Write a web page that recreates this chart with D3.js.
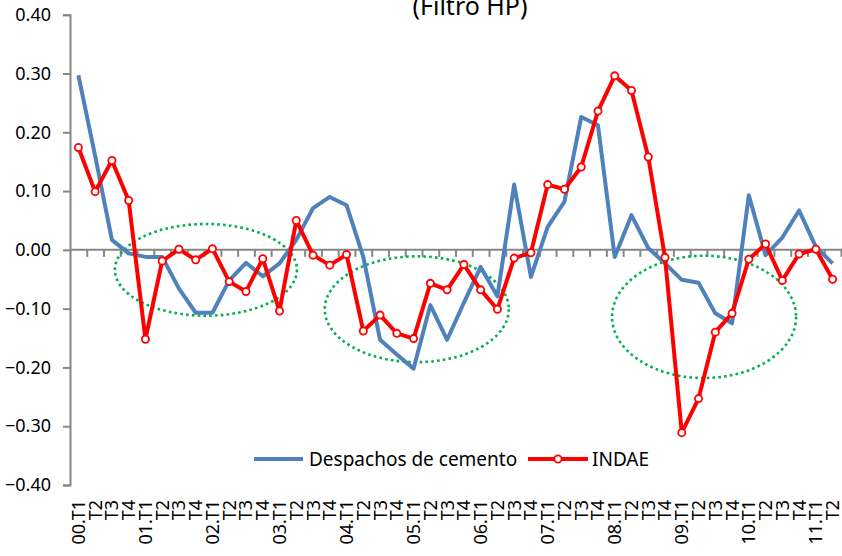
<!DOCTYPE html>
<html><head><meta charset="utf-8">
<script src="https://cdn.jsdelivr.net/npm/d3@7"></script>
<style>
html,body{margin:0;padding:0;background:#fff;}
svg{display:block;}
text{font-family:"Noto Sans","Open Sans",sans-serif;fill:#000;}
</style></head>
<body>
<svg id="chart" width="842" height="556"></svg>
<script>
const categories = ["00.T1","T2","T3","T4","01.T1","T2","T3","T4","02.T1","T2","T3","T4",
  "03.T1","T2","T3","T4","04.T1","T2","T3","T4","05.T1","T2","T3","T4",
  "06.T1","T2","T3","T4","07.T1","T2","T3","T4","08.T1","T2","T3","T4",
  "09.T1","T2","T3","T4","10.T1","T2","T3","T4","11.T1","T2"];
const despachos = [0.297,0.160,0.017,-0.006,-0.012,-0.012,-0.066,-0.107,-0.107,-0.052,-0.022,-0.045,
  -0.023,0.017,0.071,0.090,0.076,-0.012,-0.153,-0.178,-0.202,-0.094,-0.153,-0.090,
  -0.029,-0.079,0.111,-0.046,0.039,0.082,0.226,0.212,-0.012,0.059,0.003,-0.023,
  -0.051,-0.056,-0.108,-0.125,0.093,-0.009,0.021,0.067,0.005,-0.023];
const indae = [0.174,0.099,0.152,0.084,-0.152,-0.019,0.001,-0.017,0.002,-0.054,-0.071,-0.015,
  -0.104,0.050,-0.009,-0.026,-0.008,-0.138,-0.111,-0.142,-0.151,-0.057,-0.068,-0.025,
  -0.068,-0.101,-0.014,-0.005,0.111,0.103,0.141,0.236,0.296,0.271,0.158,-0.013,
  -0.311,-0.253,-0.140,-0.108,-0.016,0.010,-0.052,-0.007,0.001,-0.050];
const yTicks = [-0.4,-0.3,-0.2,-0.1,0,0.1,0.2,0.3,0.4];
const seriesNames = ["Despachos de cemento","INDAE"];
const titleText = "(Filtro HP)";
// annotation ellipses: center category index, center value, radius in categories, radius in value
const ellipses = [
  {ci:7.61, cv:-0.034, rc:5.43, rv:0.078},
  {ci:20.19, cv:-0.101, rc:5.49, rv:0.090},
  {ci:37.33, cv:-0.114, rc:5.49, rv:0.104}
];

const svg = d3.select("#chart");
const mLeft = 70, mRight = 841, mTop = 14.7, mBottom = 485;
const idx = categories.map((d,i)=>i);
const x = d3.scaleBand().domain(idx).range([mLeft,mRight]).padding(0);
const bw = x.bandwidth();
const cx = i => x(i) + bw/2;
const y = d3.scaleLinear().domain([-0.4,0.4]).range([mBottom,mTop]);
const axisColor = "#868686";

// title (clipped at top, as in the original)
svg.append("text").attr("x",470).attr("y",14.5).attr("text-anchor","middle")
  .style("font-size","25px").text(titleText);

// Y axis
const gy = svg.append("g").attr("transform",`translate(${mLeft},0)`)
  .call(d3.axisLeft(y).tickValues(yTicks).tickFormat(d3.format(".2f")).tickSize(7).tickPadding(12));
gy.select(".domain").attr("stroke",axisColor).attr("stroke-width",2);
gy.selectAll(".tick line").attr("stroke",axisColor).attr("stroke-width",2);
gy.selectAll(".tick text").style("font-size","18px").style("font-family","'Noto Sans',sans-serif").attr("fill","#000");

// X zero-line axis with ticks at category boundaries
const xb = d3.scaleLinear().domain([0,categories.length]).range([mLeft,mRight]);
const gx0 = svg.append("g").attr("transform",`translate(0,${y(0)})`)
  .call(d3.axisBottom(xb).tickValues(d3.range(1,categories.length+1)).tickSize(7).tickFormat(""));
gx0.select(".domain").attr("stroke",axisColor).attr("stroke-width",2).attr("d",`M${mLeft},0H${mRight+1}`);
gx0.selectAll(".tick line").attr("stroke",axisColor).attr("stroke-width",2);

// X labels at bottom
const gxl = svg.append("g").attr("transform",`translate(0,${mBottom})`)
  .call(d3.axisBottom(x).tickSize(0).tickFormat(i=>categories[i]));
gxl.select(".domain").remove();
gxl.selectAll(".tick text")
  .style("font-size","18px").style("font-family","'Noto Sans',sans-serif").attr("fill","#000")
  .attr("text-anchor","end").attr("transform","rotate(-90)")
  .attr("x",-15).attr("y",0).attr("dy","0.36em");

// ellipses
svg.append("g").selectAll("ellipse").data(ellipses).join("ellipse")
  .attr("cx",d=>x(0)+bw/2 + d.ci*bw).attr("cy",d=>y(d.cv))
  .attr("rx",d=>d.rc*bw).attr("ry",d=>y(0)-y(d.rv))
  .attr("fill","none").attr("stroke","#00B050").attr("stroke-width",2.6)
  .attr("stroke-dasharray","2.6,3.2");

const line = d3.line().x((d,i)=>cx(i)).y(d=>y(d));
svg.append("path").datum(despachos).attr("d",line)
  .attr("fill","none").attr("stroke","#4F81BD").attr("stroke-width",4).attr("stroke-linejoin","round");
svg.append("path").datum(indae).attr("d",line)
  .attr("fill","none").attr("stroke","#FF0000").attr("stroke-width",4).attr("stroke-linejoin","round");
svg.append("g").selectAll("circle").data(indae).join("circle")
  .attr("cx",(d,i)=>cx(i)).attr("cy",d=>y(d)).attr("r",3.6)
  .attr("fill","#fff").attr("stroke","#FF0000").attr("stroke-width",1.8);

// legend
const lg = svg.append("g");
const ly = 459;
lg.append("line").attr("x1",254).attr("x2",303).attr("y1",ly).attr("y2",ly)
  .attr("stroke","#4F81BD").attr("stroke-width",4);
lg.append("text").attr("x",309).attr("y",ly).attr("dy","0.35em").style("font-size","19px").text(seriesNames[0]);
lg.append("line").attr("x1",528).attr("x2",588).attr("y1",ly).attr("y2",ly)
  .attr("stroke","#FF0000").attr("stroke-width",4);
lg.append("circle").attr("cx",558).attr("cy",ly).attr("r",3.6)
  .attr("fill","#fff").attr("stroke","#FF0000").attr("stroke-width",1.8);
lg.append("text").attr("x",592).attr("y",ly).attr("dy","0.35em").style("font-size","19px").text(seriesNames[1]);
</script>
</body></html>
